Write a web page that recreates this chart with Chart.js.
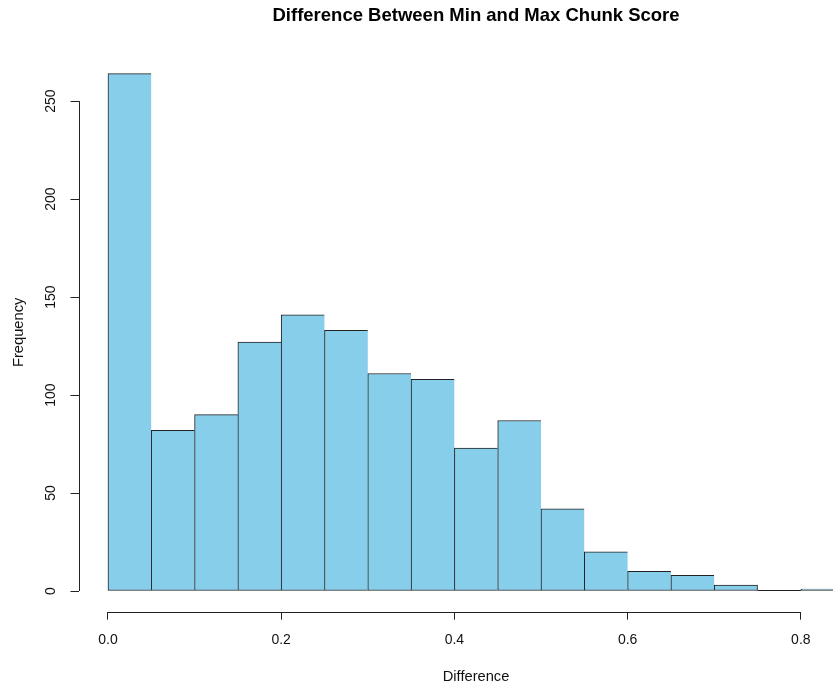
<!DOCTYPE html>
<html>
<head>
<title>Difference Between Min and Max Chunk Score</title>
<style>
body { margin: 0; background: #fff; }
#wrap { width: 833px; height: 686px; overflow: hidden; }
</style>
</head>
<body>
<div id="wrap"><canvas id="histChart" width="880" height="686"></canvas></div>
<script src="https://cdn.jsdelivr.net/npm/chart.js@4"></script>
<script>
// histogram bins (breaks) and counts
const breaks = [0, 0.05, 0.1, 0.15, 0.2, 0.25, 0.3, 0.35, 0.4, 0.45, 0.5, 0.55, 0.6, 0.65, 0.7, 0.75, 0.8, 0.85];
const counts = [264, 82, 90, 127, 141, 133, 111, 108, 73, 87, 42, 20, 10, 8, 3, 0, 1];
const xTicks = [0, 0.2, 0.4, 0.6, 0.8];
const yTicks = [0, 50, 100, 150, 200, 250];

const tickFont = { family: 'Liberation Sans, Arial, sans-serif', size: 14 };
const labFont = { family: 'Liberation Sans, Arial, sans-serif', size: 14.7 };

let points = counts.map((c, i) => ({ x: (breaks[i] + breaks[i + 1]) / 2, y: c }));

// R style detached axis lines, only from first to last tick
// (also the flat line R draws for an empty bin)
const axisLines = {
  id: 'axisLines',
  afterDraw(chart) {
    const ctx = chart.ctx, xs = chart.scales.x, ys = chart.scales.y, a = chart.chartArea;
    ctx.save();
    ctx.strokeStyle = '#222';
    ctx.lineWidth = 1;
    ctx.beginPath();
    let yb = Math.round(a.bottom) + 0.5;
    ctx.moveTo(xs.getPixelForValue(xTicks[0]), yb);
    ctx.lineTo(xs.getPixelForValue(xTicks[xTicks.length - 1]), yb);
    let xl = Math.round(a.left) + 0.5;
    ctx.moveTo(xl, ys.getPixelForValue(yTicks[0]));
    ctx.lineTo(xl, ys.getPixelForValue(yTicks[yTicks.length - 1]));
    chart.getDatasetMeta(0).data.forEach((bar, i) => {
      if (counts[i] === 0) {
        let y0 = Math.round(bar.base) - 0.5;
        ctx.moveTo(bar.x - bar.width / 2, y0);
        ctx.lineTo(bar.x + bar.width / 2, y0);
      }
    });
    ctx.stroke();
    ctx.restore();
  }
};

let chart = new Chart(document.getElementById('histChart').getContext('2d'), {
  type: 'bar',
  data: {
    datasets: [{
      data: points,
      backgroundColor: '#87CEEB',
      borderColor: '#222',
      borderSkipped: false,
      borderWidth: ctx => {
        let i = ctx.dataIndex;
        let rightEdge = (i === counts.length - 1 || counts[i + 1] === 0) ? 1 : 0;
        return { left: 1, top: 1, bottom: 1, right: rightEdge };
      },
      barPercentage: 1,
      categoryPercentage: 1
    }]
  },
  options: {
    responsive: false,
    animation: false,
    layout: { padding: { right: 6.4 } },
    plugins: {
      legend: { display: false },
      tooltip: { enabled: false },
      title: {
        display: true,
        fullSize: false,
        text: 'Difference Between Min and Max Chunk Score',
        color: '#000',
        font: { family: 'Liberation Sans, Arial, sans-serif', size: 18.5, weight: 'bold' },
        padding: { top: 4.9, bottom: 25.9 }
      }
    },
    scales: {
      x: {
        type: 'linear',
        min: -0.034,
        max: 0.884,
        offset: false,
        afterBuildTicks: s => { s.ticks = xTicks.map(v => ({ value: v })); },
        afterFit: s => { s.height = 74.3; },
        border: { display: false },
        grid: { offset: false, drawOnChartArea: false, drawTicks: true, tickLength: 8, color: '#222' },
        ticks: {
          color: '#111', font: tickFont, padding: 12, maxRotation: 0, autoSkip: false,
          callback: v => v.toFixed(1)
        },
        title: { display: true, text: 'Difference', color: '#111', font: labFont, padding: { top: 0, bottom: 0 } }
      },
      y: {
        min: -10.56,
        max: 274.56,
        afterBuildTicks: s => { s.ticks = yTicks.map(v => ({ value: v })); },
        afterFit: s => { s.width = 78.5; },
        border: { display: false },
        grid: { drawOnChartArea: false, drawTicks: true, tickLength: 8, color: '#222' },
        ticks: { color: '#111', font: tickFont, padding: 7.3, minRotation: 90, maxRotation: 90, crossAlign: 'center' },
        title: { display: true, text: 'Frequency', color: '#111', font: labFont, padding: { top: 9.7, bottom: 0 } }
      }
    }
  },
  plugins: [axisLines]
});
</script>
</body>
</html>
